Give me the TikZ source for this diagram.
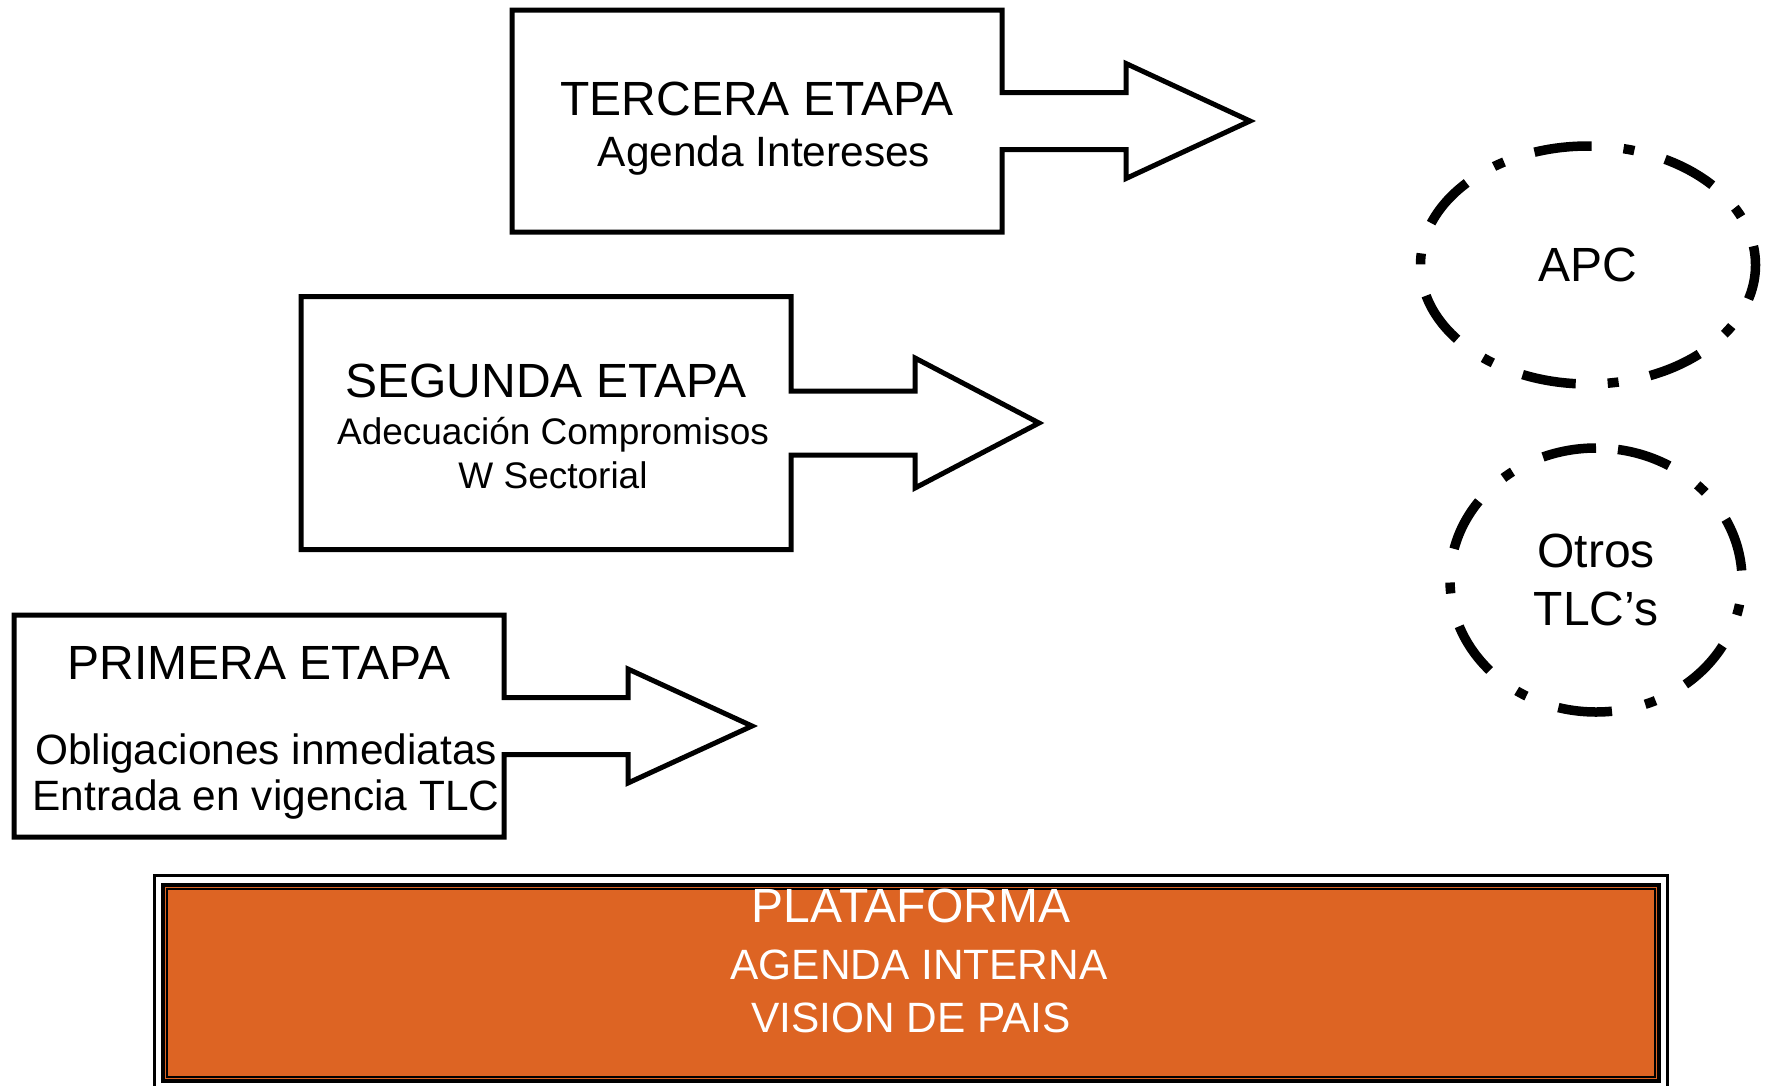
\documentclass[tikz,border=0pt]{standalone}
\usepackage{fontspec}
\setmainfont{Liberation Sans}
\usetikzlibrary{positioning}
\usetikzlibrary{calc}
\usetikzlibrary{shapes.geometric}
\definecolor{platorange}{RGB}{221,100,35}
\newcommand\titlesize{\fontsize{48}{54}\selectfont}
% box with its arrow: node, half stem, half head
\newcommand\stageoutline[3]{%
  \draw [stageline] (#1.north east) -- ($(#1.east)+(0,-#2)$) -- ++(124,0)
    -- ++(0,{#2-#3}) -- ($(#1.east)+(248,0)$) -- ($(#1.east)+(124,#3)$)
    -- ++(0,{#2-#3}) -- ($(#1.east)+(0,#2)$) -- (#1.south east)
    -- (#1.south west) -- (#1.north west) -- cycle;}
\tikzset{
  stage/.style     = { rectangle, inner sep=0pt, outer sep=0pt, align=center,
                       minimum width=490pt, font=\fontsize{42.4}{46}\selectfont },
  stageline/.style = { line width=5pt, draw=black },
  ring/.style      = { ellipse, outer sep=0pt, align=center,
                       font=\fontsize{48}{58}\selectfont },
  ringline/.style  = { line width=9.5pt, dash pattern=on 54pt off 32pt on 11pt off 32pt },
  platform/.style  = { rectangle, fill=platorange, draw=black, line width=4.6pt,
                       minimum width=1496pt, minimum height=196pt },
  platlabel/.style = { align=center, text=white, font=\fontsize{42.4}{53}\selectfont },
}
\begin{document}
\begin{tikzpicture}[x=1pt,y=-1pt]
  \useasboundingbox (0,0) rectangle (1767,1085);

  % etapas
  \node (tercera) [stage,minimum height=222pt] at (757,121)
    {{\titlesize\rule{0pt}{49pt}TERCERA ETAPA}\\[5pt] \hspace*{14pt}Agenda Intereses};
  \node (segunda) [stage,minimum height=253pt,font=\fontsize{37}{44}\selectfont] at (546,423)
    {{\titlesize\rule{0pt}{41pt}SEGUNDA ETAPA}\\[3pt] \hspace*{14pt}Adecuación Compromisos\\
     \hspace*{14pt}W Sectorial};
  \node (primera) [stage,minimum height=222pt] at (259,726)
    {{\titlesize\rule{0pt}{47pt}PRIMERA ETAPA}\\[39pt] \hspace*{14pt}Obligaciones inmediatas\\
     \hspace*{14pt}Entrada en vigencia TLC};

  \stageoutline{tercera}{28.5}{57.5}
  \stageoutline{segunda}{32}{65}
  \stageoutline{primera}{28.5}{57}

  % acuerdos
  \node (apc)   [ring,minimum width=335pt,minimum height=238pt] at (1588,265) {APC};
  \node (otros) [ring,minimum width=292pt,minimum height=264pt] at (1596,580) {Otros\\TLC’s};
  \draw [ringline] (apc.north) arc [start angle=-90, end angle=-450, x radius=167.5, y radius=119];
  \draw [ringline,dash pattern=on 54pt off 34pt on 11pt off 34pt]
    (otros.north) arc [start angle=-90, end angle=-450, x radius=146, y radius=132];

  % plataforma
  \node (plat) [platform] at (911,983) {};
  \draw [line width=2.7pt] ($(plat.north west)+(6.3,6.3)$) rectangle ($(plat.south east)+(-6.3,-6.3)$);
  \draw [line width=2.7pt] ($(plat.north west)+(-6,-7)$) rectangle ($(plat.south east)+(6,7)$);
  \node (platlbl) [platlabel] at (911,961)
    {{\titlesize PLATAFORMA}\\[3.5pt] \hspace*{16pt}AGENDA INTERNA\\ VISION DE PAIS};
\end{tikzpicture}
\end{document}
